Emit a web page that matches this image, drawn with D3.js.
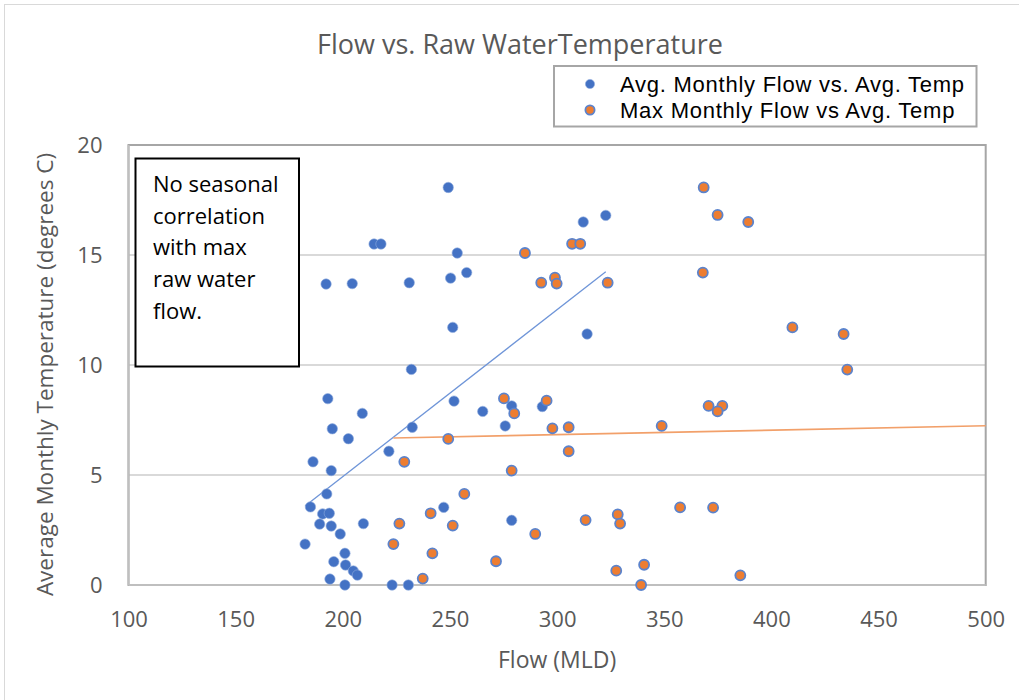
<!DOCTYPE html>
<html>
<head>
<meta charset="utf-8">
<script src="https://cdn.jsdelivr.net/npm/d3@7"></script>
<style>
  html, body { margin: 0; padding: 0; background: #fff; }
  svg { display: block; font-family: "Open Sans", "Noto Sans", sans-serif; }
</style>
</head>
<body>
<svg id="chart" width="1019" height="700"></svg>
<script>
// ---- Data ----
const title = "Flow vs. Raw WaterTemperature";
const xAxisTitle = "Flow (MLD)";
const yAxisTitle = "Average Monthly Temperature (degrees C)";
const seriesNames = ["Avg. Monthly Flow vs. Avg. Temp", "Max Monthly Flow vs Avg. Temp"];
const noteLines = ["No seasonal", "correlation", "with max", "raw water", "flow."];

const xTicks = [100, 150, 200, 250, 300, 350, 400, 450, 500];
const yTicks = [0, 5, 10, 15, 20];

const avgFlow = [249.2, 322.7, 312.2, 214.6, 217.8, 253.4, 257.8, 250.3, 192.2, 204.4, 231.0, 251.3, 314.0, 232.0,
  193.0, 251.9, 278.8, 293.1, 265.3, 209.1, 232.4, 275.8, 195.1, 202.6, 221.5, 186.1, 194.6, 192.5, 184.9, 247.1,
  190.6, 193.7, 189.2, 194.6, 209.6, 278.8, 198.8, 182.4, 201.0, 195.8, 201.3, 204.9, 206.8, 194.0, 201.0, 223.0, 230.6];
const avgTemp = [18.07, 16.8, 16.5, 15.5, 15.5, 15.09, 14.2, 13.95, 13.68, 13.7, 13.74, 11.71, 11.41, 9.8,
  8.47, 8.36, 8.14, 8.11, 7.89, 7.8, 7.17, 7.23, 7.1, 6.65, 6.08, 5.6, 5.2, 4.14, 3.55, 3.53,
  3.23, 3.26, 2.77, 2.68, 2.79, 2.94, 2.32, 1.86, 1.44, 1.06, 0.91, 0.64, 0.45, 0.27, 0, 0, 0];

const maxFlow = [368.4, 374.9, 389.2, 307.0, 310.8, 285.0, 368.0, 299.0, 292.6, 299.8, 323.6, 409.8, 433.7, 435.4,
  275.2, 295.1, 370.7, 377.1, 374.9, 280.0, 297.8, 305.4, 348.8, 249.2, 305.4, 228.7, 278.8, 256.7, 357.4, 372.8,
  241.0, 226.4, 251.3, 313.3, 328.3, 329.4, 289.8, 223.6, 241.8, 271.5, 340.6, 327.6, 385.5, 237.3, 339.2];
const maxTemp = [18.07, 16.82, 16.5, 15.51, 15.51, 15.09, 14.2, 13.97, 13.74, 13.7, 13.74, 11.71, 11.41, 9.79,
  8.48, 8.38, 8.14, 8.14, 7.89, 7.8, 7.12, 7.17, 7.23, 6.64, 6.08, 5.6, 5.2, 4.14, 3.53, 3.52,
  3.26, 2.79, 2.7, 2.95, 3.21, 2.79, 2.32, 1.86, 1.44, 1.08, 0.92, 0.65, 0.44, 0.29, 0];

// Linear trendlines (start/end flow, temperature)
const avgTrendFlow = [182.4, 322.7];
const avgTrendTemp = [3.59, 14.24];
const maxTrendFlow = [223.6, 500];
const maxTrendTemp = [6.68, 7.24];

// ---- Drawing ----
const svg = d3.select("#chart");
const W = 1019, H = 700;
const plot = { left: 128.5, right: 985.7, top: 145, bottom: 585 };

const x = d3.scaleLinear().domain([100, 500]).range([plot.left, plot.right]);
const y = d3.scaleLinear().domain([0, 20]).range([plot.bottom, plot.top]);

const blue = "#4472C4", orange = "#ED7D31", textGray = "#595959";

// chart area border
svg.append("rect").attr("x", 4.5).attr("y", 4.5).attr("width", W + 10).attr("height", H + 10)
  .attr("fill", "#fff").attr("stroke", "#D9D9D9").attr("stroke-width", 1);

// gridlines
svg.append("g").selectAll("line").data(yTicks.filter(d => d > 0 && d < 20)).join("line")
  .attr("x1", plot.left).attr("x2", plot.right)
  .attr("y1", d => y(d)).attr("y2", d => y(d))
  .attr("stroke", "#D9D9D9").attr("stroke-width", 2);

// plot area border
svg.append("rect").attr("x", plot.left).attr("y", plot.top)
  .attr("width", plot.right - plot.left).attr("height", plot.bottom - plot.top)
  .attr("fill", "none").attr("stroke", "#A6A6A6").attr("stroke-width", 2);
svg.append("line").attr("x1", plot.left).attr("x2", plot.right).attr("y1", plot.bottom).attr("y2", plot.bottom)
  .attr("stroke", "#BFBFBF").attr("stroke-width", 2);
svg.append("line").attr("x1", plot.left).attr("x2", plot.left).attr("y1", plot.top).attr("y2", plot.bottom)
  .attr("stroke", "#BFBFBF").attr("stroke-width", 2);

// axes (tick labels only)
const xAxis = d3.axisBottom(x).tickValues(xTicks).tickSize(0).tickPadding(26).tickFormat(d3.format("d"));
const gx = svg.append("g").attr("transform", `translate(0,${plot.bottom})`).call(xAxis);
gx.select(".domain").remove();
gx.selectAll("text").attr("fill", textGray).style("font-size", "22px").style("font-family", "Open Sans");

const yAxis = d3.axisLeft(y).tickValues(yTicks).tickSize(0).tickPadding(26).tickFormat(d3.format("d"));
const gy = svg.append("g").attr("transform", `translate(${plot.left},0)`).call(yAxis);
gy.select(".domain").remove();
gy.selectAll("text").attr("fill", textGray).style("font-size", "22px").style("font-family", "Open Sans");

// trendlines
const line = d3.line().x(d => x(d[0])).y(d => y(d[1]));
svg.append("path").datum(d3.zip(avgTrendFlow, avgTrendTemp)).attr("d", line)
  .attr("fill", "none").attr("stroke", "#6F95D8").attr("stroke-width", 1.3);
svg.append("path").datum(d3.zip(maxTrendFlow, maxTrendTemp)).attr("d", line)
  .attr("fill", "none").attr("stroke", "#F2A06A").attr("stroke-width", 1.6);

// points
svg.append("g").selectAll("circle").data(d3.zip(avgFlow, avgTemp)).join("circle")
  .attr("cx", d => x(d[0])).attr("cy", d => y(d[1])).attr("r", 5.2)
  .attr("fill", blue).attr("stroke", "#8FABDD").attr("stroke-width", 0.6);
svg.append("g").selectAll("circle").data(d3.zip(maxFlow, maxTemp)).join("circle")
  .attr("cx", d => x(d[0])).attr("cy", d => y(d[1])).attr("r", 5)
  .attr("fill", orange).attr("stroke", "#5B83CC").attr("stroke-width", 1.8);

// title
svg.append("text").attr("x", 520).attr("y", 54).attr("text-anchor", "middle")
  .attr("fill", textGray).style("font-size", "27px").text(title);

// axis titles
svg.append("text").attr("x", (plot.left + plot.right) / 2).attr("y", 668).attr("text-anchor", "middle")
  .attr("fill", textGray).style("font-size", "23px").text(xAxisTitle);
svg.append("text").attr("transform", `translate(53,${374.5}) rotate(-90)`).attr("text-anchor", "middle")
  .attr("fill", textGray).style("font-size", "22.5px").text(yAxisTitle);

// legend
const lg = svg.append("g");
lg.append("rect").attr("x", 554).attr("y", 66).attr("width", 422.5).attr("height", 60.5)
  .attr("fill", "#fff").attr("stroke", "#A6A6A6").attr("stroke-width", 2);
const legendColors = [[blue, "#8FABDD", 0.6], [orange, "#5B83CC", 1.8]];
seriesNames.forEach((name, i) => {
  const cy = 84 + i * 26;
  lg.append("circle").attr("cx", 590).attr("cy", cy).attr("r", 4.6)
    .attr("fill", legendColors[i][0]).attr("stroke", legendColors[i][1]).attr("stroke-width", legendColors[i][2]);
  lg.append("text").attr("x", 620).attr("y", cy + 7.5).attr("fill", "#000")
    .style("font-family", "'Liberation Sans', Arial, sans-serif")
    .style("font-size", "22px").style("letter-spacing", "0.75px").text(name);
});

// annotation box
const nb = svg.append("g");
nb.append("rect").attr("x", 135.5).attr("y", 158.5).attr("width", 163.5).attr("height", 208)
  .attr("fill", "#fff").attr("stroke", "#000").attr("stroke-width", 2);
noteLines.forEach((t, i) => {
  nb.append("text").attr("x", 153).attr("y", 192 + i * 31.7).attr("fill", "#000")
    .style("font-size", "22px").text(t);
});
</script>
</body>
</html>
